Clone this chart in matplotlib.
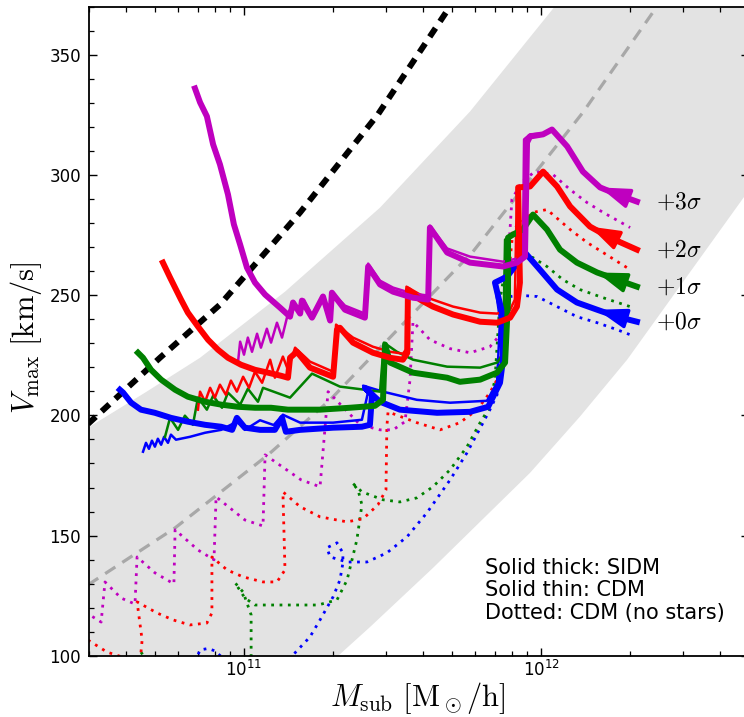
import numpy as np
import matplotlib
matplotlib.use("Agg")
import matplotlib.pyplot as plt
from matplotlib.ticker import MultipleLocator, LogLocator, NullFormatter

# ---------------------------------------------------------------------------
# Trajectories in the (log10 M_sub [Msun/h], Vmax [km/s]) plane.
# One list of (log10 M, Vmax) vertices per model and per concentration offset.
# ---------------------------------------------------------------------------

# +3 sigma (magenta)
P3_SIDM = [(10.835, 336.1), (10.852, 330.3), (10.875, 324.5), (10.896, 312.8), (10.919, 304.5),
           (10.946, 292.0), (10.966, 279.5), (10.987, 271.1), (11.010, 261.5), (11.037, 255.3),
           (11.071, 250.3), (11.121, 244.9), (11.155, 241.1), (11.165, 247.0), (11.189, 242.4),
           (11.195, 247.8), (11.229, 240.7), (11.266, 249.5), (11.290, 239.5), (11.296, 251.1),
           (11.340, 244.0), (11.407, 240.7), (11.418, 262.0), (11.458, 254.5), (11.502, 251.5),
           (11.569, 249.0), (11.620, 248.2), (11.626, 278.2), (11.684, 267.8), (11.761, 263.6),
           (11.872, 262.0), (11.919, 263.6), (11.946, 266.1), (11.953, 313.6), (11.963, 316.1),
           (12.007, 317.0), (12.037, 319.0), (12.088, 312.0), (12.141, 301.5), (12.199, 294.9),
           (12.256, 292.0), (12.323, 289.0)]
P3_CDM = [(10.980, 222.4), (10.987, 230.7), (11.000, 225.3), (11.013, 232.4), (11.027, 226.5),
          (11.044, 234.0), (11.057, 228.2), (11.077, 236.1), (11.091, 230.3), (11.111, 238.6),
          (11.128, 232.4), (11.148, 242.4), (11.165, 246.5), (11.189, 243.2), (11.202, 248.2),
          (11.229, 241.5), (11.266, 249.9), (11.290, 240.7), (11.296, 251.5), (11.340, 245.7),
          (11.407, 242.4), (11.418, 263.2), (11.458, 256.1), (11.502, 253.2), (11.569, 250.7),
          (11.620, 249.9), (11.626, 279.0), (11.684, 269.5), (11.761, 266.1), (11.872, 264.0),
          (11.919, 265.3), (11.939, 268.2), (11.943, 314.9), (11.963, 317.0), (12.007, 317.4),
          (12.037, 319.0), (12.088, 312.0), (12.141, 301.5), (12.199, 294.9), (12.256, 292.0),
          (12.323, 289.0)]
P3_NOSTARS = [(10.465, 118.0), (10.475, 117.4), (10.519, 114.0), (10.532, 130.7), (10.586, 124.0),
              (10.633, 121.5), (10.640, 141.1), (10.700, 134.5), (10.764, 129.9), (10.768, 152.4),
              (10.845, 144.0), (10.899, 139.9), (10.906, 166.1), (11.003, 156.5), (11.064, 154.0),
              (11.071, 183.6), (11.192, 173.2), (11.256, 170.3), (11.283, 209.9), (11.391, 196.1),
              (11.458, 194.0), (11.502, 194.0), (11.542, 197.4), (11.559, 214.9), (11.569, 239.0),
              (11.626, 231.5), (11.694, 227.8), (11.761, 226.1), (11.828, 228.6), (11.869, 234.5),
              (11.879, 244.0), (11.902, 289.9), (11.936, 297.4), (11.980, 301.5), (12.040, 300.3),
              (12.098, 294.0), (12.155, 288.6), (12.209, 284.5), (12.300, 278.2)]

# +2 sigma (red)
P2_SIDM = [(10.727, 263.6), (10.751, 257.4), (10.788, 248.2), (10.811, 242.8), (10.845, 237.0),
           (10.879, 231.5), (10.912, 227.4), (10.946, 224.0), (10.990, 221.1), (11.037, 219.0),
           (11.081, 217.8), (11.125, 216.5), (11.148, 215.7), (11.155, 224.0), (11.178, 226.5),
           (11.222, 219.9), (11.300, 216.1), (11.313, 235.7), (11.323, 236.5), (11.367, 230.3),
           (11.434, 226.1), (11.492, 224.0), (11.535, 223.2), (11.550, 226.1), (11.552, 252.4),
           (11.593, 248.2), (11.636, 245.3), (11.704, 242.0), (11.795, 239.0), (11.852, 238.6),
           (11.896, 240.7), (11.919, 245.3), (11.929, 255.3), (11.923, 294.9), (11.963, 295.3),
           (12.007, 301.5), (12.054, 295.3), (12.098, 287.0), (12.165, 278.6), (12.232, 274.0),
           (12.323, 269.0)]
P2_CDM = [(10.845, 202.4), (10.852, 209.9), (10.869, 205.7), (10.886, 211.5), (10.902, 207.4),
          (10.919, 212.8), (10.939, 208.6), (10.956, 214.5), (10.976, 209.9), (10.997, 216.1),
          (11.017, 211.5), (11.037, 218.2), (11.061, 213.6), (11.088, 223.2), (11.104, 215.7),
          (11.131, 224.5), (11.148, 219.0), (11.172, 228.2), (11.222, 222.4), (11.300, 218.2),
          (11.310, 237.8), (11.367, 232.4), (11.434, 228.6), (11.492, 226.5), (11.535, 225.7),
          (11.545, 227.4), (11.547, 253.6), (11.593, 250.3), (11.636, 248.2), (11.704, 245.3),
          (11.795, 242.8), (11.852, 242.4), (11.896, 244.0), (11.912, 248.2), (11.919, 294.0),
          (11.963, 295.7), (12.007, 301.5), (12.054, 295.3), (12.098, 287.0), (12.165, 278.6),
          (12.232, 274.0), (12.323, 269.0)]
P2_NOSTARS = [(10.475, 106.5), (10.539, 101.5), (10.589, 99.5), (10.650, 97.4), (10.657, 106.5),
              (10.640, 122.4), (10.707, 117.8), (10.761, 114.9), (10.818, 112.8), (10.875, 113.6),
              (10.892, 117.8), (10.892, 141.1), (10.943, 135.7), (10.997, 132.8), (11.064, 130.7),
              (11.111, 130.7), (11.138, 135.7), (11.131, 168.2), (11.189, 162.0), (11.256, 157.8),
              (11.347, 155.7), (11.401, 157.0), (11.451, 162.8), (11.478, 169.0), (11.481, 195.3),
              (11.485, 201.5), (11.582, 197.0), (11.660, 194.0), (11.727, 197.0), (11.785, 202.4),
              (11.828, 209.5), (11.852, 214.9), (11.879, 235.7), (11.896, 264.9), (11.906, 277.4),
              (11.973, 284.5), (12.020, 285.7), (12.098, 277.4), (12.155, 272.0), (12.209, 267.8),
              (12.300, 260.7)]

# +1 sigma (green)
P1_SIDM = [(10.643, 226.1), (10.660, 224.0), (10.687, 219.0), (10.721, 214.9), (10.768, 210.7),
           (10.811, 207.8), (10.869, 205.7), (10.923, 204.5), (10.980, 203.6), (11.037, 203.2),
           (11.091, 203.2), (11.148, 202.4), (11.256, 202.4), (11.357, 203.2), (11.441, 204.0),
           (11.468, 206.5), (11.475, 229.5), (11.492, 222.0), (11.569, 217.8), (11.684, 215.7),
           (11.727, 214.0), (11.795, 214.9), (11.852, 217.8), (11.879, 222.0), (11.889, 248.2),
           (11.889, 274.0), (11.906, 275.3), (11.939, 277.4), (11.973, 283.6), (12.020, 277.4),
           (12.064, 269.0), (12.121, 263.6), (12.189, 259.5), (12.256, 256.5), (12.323, 253.6)]
P1_CDM = [(10.734, 191.1), (10.751, 199.0), (10.778, 194.0), (10.801, 199.9), (10.828, 196.1),
          (10.845, 207.4), (10.875, 202.4), (10.896, 208.2), (10.926, 203.2), (10.946, 209.5),
          (10.987, 204.5), (11.013, 211.1), (11.047, 205.7), (11.064, 211.5), (11.155, 207.4),
          (11.229, 217.4), (11.323, 212.0), (11.458, 209.9), (11.471, 230.3), (11.515, 226.5),
          (11.569, 223.2), (11.684, 220.3), (11.795, 219.9), (11.852, 222.0), (11.872, 225.3),
          (11.879, 273.2), (11.906, 274.9), (11.939, 277.4), (11.973, 283.6), (12.020, 277.4),
          (12.064, 269.0), (12.121, 263.6), (12.189, 259.5), (12.256, 256.5), (12.323, 253.6)]
P1_NOSTARS = [(10.653, 101.5), (10.684, 96.1), (11.024, 96.1), (11.024, 117.0), (10.997, 126.5),
              (10.970, 130.3), (11.003, 124.0), (11.037, 121.1), (11.155, 121.1), (11.249, 121.1),
              (11.313, 123.2), (11.347, 131.5), (11.380, 148.2), (11.397, 162.8), (11.384, 169.0),
              (11.364, 172.0), (11.397, 168.2), (11.468, 164.9), (11.525, 164.0), (11.582, 165.7),
              (11.636, 170.3), (11.694, 177.4), (11.751, 187.0), (11.795, 197.0), (11.822, 202.4),
              (11.845, 214.9), (11.862, 248.2), (11.879, 260.7), (11.929, 267.0), (11.973, 265.7),
              (12.020, 262.0), (12.074, 256.5), (12.131, 252.4), (12.209, 249.0), (12.300, 245.3)]

# +0 sigma (blue)
P0_SIDM = [(10.582, 210.7), (10.593, 209.5), (10.620, 205.3), (10.653, 202.4), (10.700, 201.1),
           (10.754, 199.0), (10.811, 197.4), (10.869, 196.1), (10.923, 195.3), (10.960, 194.0),
           (10.976, 199.0), (11.003, 194.9), (11.054, 194.0), (11.104, 194.0), (11.128, 199.0),
           (11.141, 193.2), (11.189, 194.0), (11.300, 194.9), (11.397, 195.3), (11.424, 196.1),
           (11.431, 208.6), (11.407, 211.5), (11.458, 205.7), (11.525, 202.4), (11.650, 201.1),
           (11.761, 201.5), (11.822, 203.6), (11.862, 213.6), (11.872, 223.2), (11.872, 241.1),
           (11.845, 255.3), (11.886, 257.8), (11.929, 264.9), (11.946, 267.8), (11.987, 262.0),
           (12.054, 252.4), (12.121, 247.0), (12.189, 244.0), (12.256, 241.1), (12.323, 239.0)]
P0_CDM = [(10.660, 184.9), (10.670, 188.6), (10.680, 186.1), (10.690, 189.5), (10.700, 187.0),
          (10.710, 190.3), (10.721, 187.8), (10.731, 191.1), (10.744, 188.6), (10.754, 192.0),
          (10.771, 189.9), (10.818, 191.1), (10.869, 192.8), (10.923, 194.0), (10.976, 197.4),
          (11.003, 194.0), (11.054, 198.0), (11.100, 196.0), (11.131, 200.3), (11.189, 197.0),
          (11.300, 197.0), (11.397, 198.2), (11.418, 209.9), (11.401, 212.4), (11.468, 209.9),
          (11.582, 206.5), (11.694, 205.3), (11.818, 206.1), (11.852, 213.6), (11.862, 239.9),
          (11.845, 254.5), (11.886, 257.8), (11.929, 264.9), (11.946, 267.8), (11.987, 262.0),
          (12.054, 252.4), (12.121, 247.0), (12.189, 244.0), (12.256, 241.1), (12.323, 239.0)]
P0_NOSTARS = [(10.835, 97.4), (10.852, 102.4), (10.879, 103.0), (10.902, 102.0), (10.936, 98.2),
              (11.155, 97.4), (11.165, 100.3), (11.222, 107.8), (11.256, 114.9), (11.300, 124.5),
              (11.323, 131.5), (11.333, 138.6), (11.333, 142.8), (11.313, 147.0), (11.279, 144.9),
              (11.290, 141.1), (11.347, 139.0), (11.414, 139.0), (11.481, 142.8), (11.549, 149.5),
              (11.616, 159.5), (11.694, 173.2), (11.751, 184.5), (11.805, 197.0), (11.828, 202.4),
              (11.852, 208.6), (11.872, 231.5), (11.896, 249.5), (11.929, 250.0), (11.987, 249.5),
              (12.054, 245.3), (12.121, 241.1), (12.189, 238.6), (12.256, 235.7), (12.300, 233.6)]

# Reference relations: mean CDM relation, its scatter band, and the black dashed limit
CDM_MEAN = [(10.475, 129.5), (10.768, 153.2), (11.081, 183.6), (11.290, 206.5), (11.569, 242.4),
            (11.771, 268.2), (12.141, 326.1), (12.391, 370.3), (12.535, 398.2)]
BAND_UPPER = [(10.40, 191.0), (10.475, 194.9), (10.667, 209.5), (10.852, 224.0), (11.138, 251.5),
              (11.458, 286.5), (11.761, 326.5), (12.047, 370.3), (12.148, 385.7)]
BAND_LOWER = [(11.189, 86.1), (11.313, 99.5), (11.424, 111.9), (11.636, 136.5), (11.963, 176.1),
              (12.131, 199.5), (12.290, 223.2), (12.684, 291.0), (12.737, 302.4)]
LIMIT = [(10.475, 196.5), (10.717, 224.0), (10.919, 246.1), (11.189, 284.5), (11.451, 325.3),
         (11.694, 370.3), (11.795, 389.9)]

SIGMA_LABELS = [r"$+3\sigma$", r"$+2\sigma$", r"$+1\sigma$", r"$+0\sigma$"]
COLORS = ["#bf00bf", "#ff0000", "#008000", "#0000ff"]
GROUPS = [(P3_SIDM, P3_CDM, P3_NOSTARS), (P2_SIDM, P2_CDM, P2_NOSTARS),
          (P1_SIDM, P1_CDM, P1_NOSTARS), (P0_SIDM, P0_CDM, P0_NOSTARS)]
NOTE = "Solid thick: SIDM\nSolid thin: CDM\nDotted: CDM (no stars)"


def unpack(pairs):
    lm, v = np.array(pairs).T
    return 10.0 ** lm, v


fig = plt.figure(figsize=(7.44, 7.17), dpi=100)
ax = fig.add_axes([88.7 / 744, 1 - 655.7 / 717, 659.9 / 744, 648.7 / 717])
ax.set_xscale("log")

# scatter band around the mean relation
mu, vu = unpack(BAND_UPPER)
ml, vl = unpack(BAND_LOWER)
poly_m = np.concatenate([mu, [10 ** 12.9, 10 ** 12.9], ml[::-1], [10 ** 10.40]])
poly_v = np.concatenate([vu, [vu[-1], 330.0], vl[::-1], [vl[0]]])
ax.fill(poly_m, poly_v, color="#e3e3e3", lw=0, zorder=0)

m, v = unpack(CDM_MEAN)
ax.plot(m, v, color="#a8a8a8", lw=2.3, ls=(0, (3.8, 2.6)), zorder=1)
m, v = unpack(LIMIT)
ax.plot(m, v, color="black", lw=4.3, ls=(0, (1.75, 1.35)), zorder=1)

# draw from +0 sigma upward so the higher tracks lie on top
for (sidm, cdm, nostars), color, label in list(zip(GROUPS, COLORS, SIGMA_LABELS))[::-1]:
    m, v = unpack(nostars)
    ax.plot(m, v, color=color, lw=2.0, ls=(0, (1.0, 2.0)), zorder=2)
    m, v = unpack(cdm)
    ax.plot(m, v, color=color, lw=1.8, zorder=3)
    m, v = unpack(sidm)
    ax.plot(m, v, color=color, lw=4.3, solid_joinstyle="round", zorder=4)
    ax.annotate("", xy=(m[-3], v[-3]), xytext=(m[-1], v[-1]),
                arrowprops=dict(arrowstyle="-|>,head_length=0.9,head_width=0.3",
                                mutation_scale=20, color=color, lw=2.5,
                                shrinkA=0, shrinkB=0), zorder=4)
    ax.annotate(label, xy=(m[-1], v[-1]), xytext=(14, 0), textcoords="offset points",
                ha="left", va="center", fontsize=17, math_fontfamily="cm",
                annotation_clip=False)

ax.text(0.6005, 0.151, NOTE, transform=ax.transAxes, fontsize=15,
        ha="left", va="top", linespacing=1.15)

ax.set_xlim(3e10, 5e12)
ax.set_ylim(100, 370)
ax.yaxis.set_major_locator(MultipleLocator(50))
ax.yaxis.set_minor_locator(MultipleLocator(10))
ax.xaxis.set_major_locator(LogLocator(base=10))
ax.xaxis.set_minor_locator(LogLocator(base=10, subs=np.arange(2, 10)))
ax.xaxis.set_minor_formatter(NullFormatter())
ax.tick_params(which="both", direction="in", top=True, right=True, labelsize=12)
ax.tick_params(which="major", length=6, width=1.0)
ax.tick_params(which="minor", length=3.5, width=0.9)
ax.tick_params(axis="y", which="major", pad=5.5)
ax.tick_params(axis="x", which="major", pad=3)
for s in ax.spines.values():
    s.set_linewidth(1.3)

fig.text(0.035, 0.529, r"$V_{\rm max}\ [{\rm km/s}]$", rotation=90, ha="center",
         va="center", fontsize=22, math_fontfamily="cm")
fig.text(0.561, 0.026, r"$M_{\rm sub}\ [{\rm M}_\odot/{\rm h}]$", ha="center",
         va="center", fontsize=22, math_fontfamily="cm")

fig.savefig("out.png", dpi=100)
